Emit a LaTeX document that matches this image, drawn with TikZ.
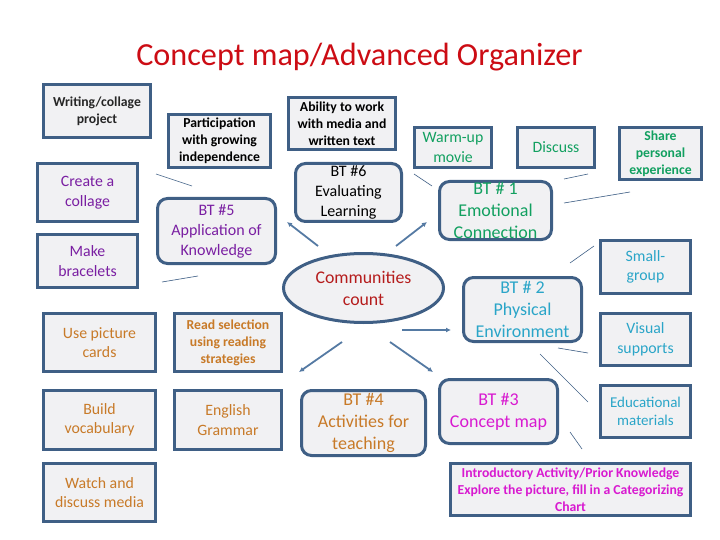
\documentclass[tikz,border=0pt]{standalone}
\usepackage{fontspec}
\setmainfont{Carlito}
\usetikzlibrary{shapes.geometric,arrows.meta}
\definecolor{edgeblue}{HTML}{3F5F85}
\definecolor{arrowblue}{HTML}{557AA3}
\definecolor{fillgrey}{HTML}{F1F1F3}
\definecolor{titlered}{HTML}{CC0C14}
\definecolor{cpurple}{HTML}{7A1FA2}
\definecolor{cgreen}{HTML}{12A060}
\definecolor{ccyan}{HTML}{2AA5C8}
\definecolor{cmagenta}{HTML}{D81AD0}
\definecolor{corange}{HTML}{C87A28}
\definecolor{cred}{HTML}{B51C1C}
\tikzset{
  base/.style={draw=edgeblue,fill=fillgrey,line width=3pt,align=center,inner sep=0pt,outer sep=0pt,font=\fontsize{15.8}{19.5}\selectfont},
  sqbox/.style={base,rectangle},
  rdbox/.style={base,rectangle,rounded corners=10pt,font=\fontsize{16}{20}\selectfont},
  bigrd/.style={rdbox,font=\fontsize{18}{22}\selectfont},
  small/.style={font=\fontsize{13.7}{17}\selectfont\bfseries},
  smallreg/.style={font=\fontsize{15}{18}\selectfont},
  thinln/.style={draw=edgeblue,line width=0.6pt},
  fatarrow/.style={draw=arrowblue,line width=1.8pt,-{Latex[length=5pt,width=5pt]}}
}
% style, name, x1, y1, x2, y2, text
\newcommand{\pbox}[7]{\node[#1,minimum width={(#5-#3-3)*1pt},minimum height={(#6-#4-3)*1pt}] (#2) at ({(#3+#5)/2},{(#4+#6)/2}) {#7};}
\begin{document}
\begin{tikzpicture}[x=1pt,y=-1pt]
\useasboundingbox (0,0) rectangle (720,540);
\node[text=titlered,font=\fontsize{32.2}{36}\selectfont] (title) at (359.5,57) {Concept map/Advanced Organizer};

\pbox{sqbox,small,text=black!85}{writing}{42}{83}{152}{139}{Writing/collage\\project}
\pbox{sqbox,small,text=black}{particip}{167}{113}{272}{169}{Participation\\with growing\\independence}
\pbox{sqbox,small,text=black}{ability}{287}{96}{397}{151}{Ability to work\\with media and\\written text}
\pbox{rdbox,text=black}{btsix}{294}{162}{403}{223}{BT \#6\\Evaluating\\Learning}
\pbox{sqbox,text=cpurple}{collage}{36}{162}{139}{223}{Create a\\collage}
\pbox{sqbox,text=cpurple}{bracelets}{36}{233}{139}{289}{Make\\bracelets}
\pbox{rdbox,text=cpurple}{btfive}{156}{197}{277}{265}{BT \#5\\Application of\\Knowledge}
\node[base,ellipse,text=cred,font=\fontsize{17.8}{22}\selectfont,minimum width=160pt,minimum height=69pt] (comm) at (363.5,288) {Communities\\count};
\pbox{sqbox,text=cgreen}{warm}{413}{126}{493}{169}{Warm-up\\movie}
\pbox{sqbox,text=cgreen}{discuss}{516}{126}{596}{169}{Discuss}
\pbox{sqbox,small,text=cgreen}{share}{618}{126}{703}{181}{Share\\personal\\experience}
\pbox{bigrd,text=cgreen}{btone}{438}{180}{553}{241}{BT \# 1\\Emotional\\Connection}
\pbox{sqbox,text=ccyan}{smallg}{599}{239}{692}{295}{Small-\\group}
\pbox{bigrd,text=ccyan}{bttwo}{462}{276}{583}{343}{BT \# 2\\Physical\\Environment}
\pbox{sqbox,text=ccyan}{visual}{599}{312}{692}{367}{Visual\\supports}
\pbox{sqbox,smallreg,text=ccyan}{edu}{599}{384}{692}{439}{Educational\\materials}
\pbox{bigrd,text=cmagenta}{btthree}{438}{378}{559}{445}{BT \#3\\Concept map}
\pbox{sqbox,small,text=cmagenta}{intro}{449}{462}{692}{517}{Introductory Activity/Prior Knowledge\\Explore the picture, fill in a Categorizing\\Chart}
\pbox{bigrd,text=corange}{btfour}{300}{389}{427}{457}{BT \#4\\Activities for\\teaching}
\pbox{sqbox,text=corange}{cards}{42}{312}{157}{373}{Use picture\\cards}
\pbox{sqbox,small,text=corange}{readsel}{173}{312}{283}{373}{Read selection\\using reading\\strategies}
\pbox{sqbox,text=corange}{vocab}{42}{389}{157}{451}{Build\\vocabulary}
\pbox{sqbox,text=corange}{grammar}{173}{389}{283}{451}{English\\Grammar}
\pbox{sqbox,text=corange}{media}{42}{462}{157}{523}{Watch and\\discuss media}

\coordinate (la1) at (156,174); \coordinate (la2) at (192,186);
\coordinate (lb1) at (162,282); \coordinate (lb2) at (198,276);
\coordinate (lc1) at (414,174); \coordinate (lc2) at (432,186);
\coordinate (ld1) at (564,179); \coordinate (ld2) at (588,174);
\coordinate (le1) at (564,203); \coordinate (le2) at (630,192);
\coordinate (lf1) at (570,263); \coordinate (lf2) at (594,246);
\coordinate (lg1) at (558,348); \coordinate (lg2) at (588,353);
\coordinate (lh1) at (540,354); \coordinate (lh2) at (588,402);
\coordinate (li1) at (570,432); \coordinate (li2) at (582,449);
\foreach \k in {a,b,c,d,e,f,g,h,i}{\draw[thinln] (l\k1) -- (l\k2);}

\coordinate (af) at (318,246); \coordinate (at) at (287,222);
\coordinate (bf) at (396,246); \coordinate (bt) at (427,222);
\coordinate (cf) at (402,330); \coordinate (ct) at (451,330);
\coordinate (df) at (390,342); \coordinate (dt) at (433,372);
\coordinate (ef) at (342,342); \coordinate (et) at (299,372);
\foreach \k in {a,b,c,d,e}{\draw[fatarrow] (\k f) -- (\k t);}
\end{tikzpicture}
\end{document}
